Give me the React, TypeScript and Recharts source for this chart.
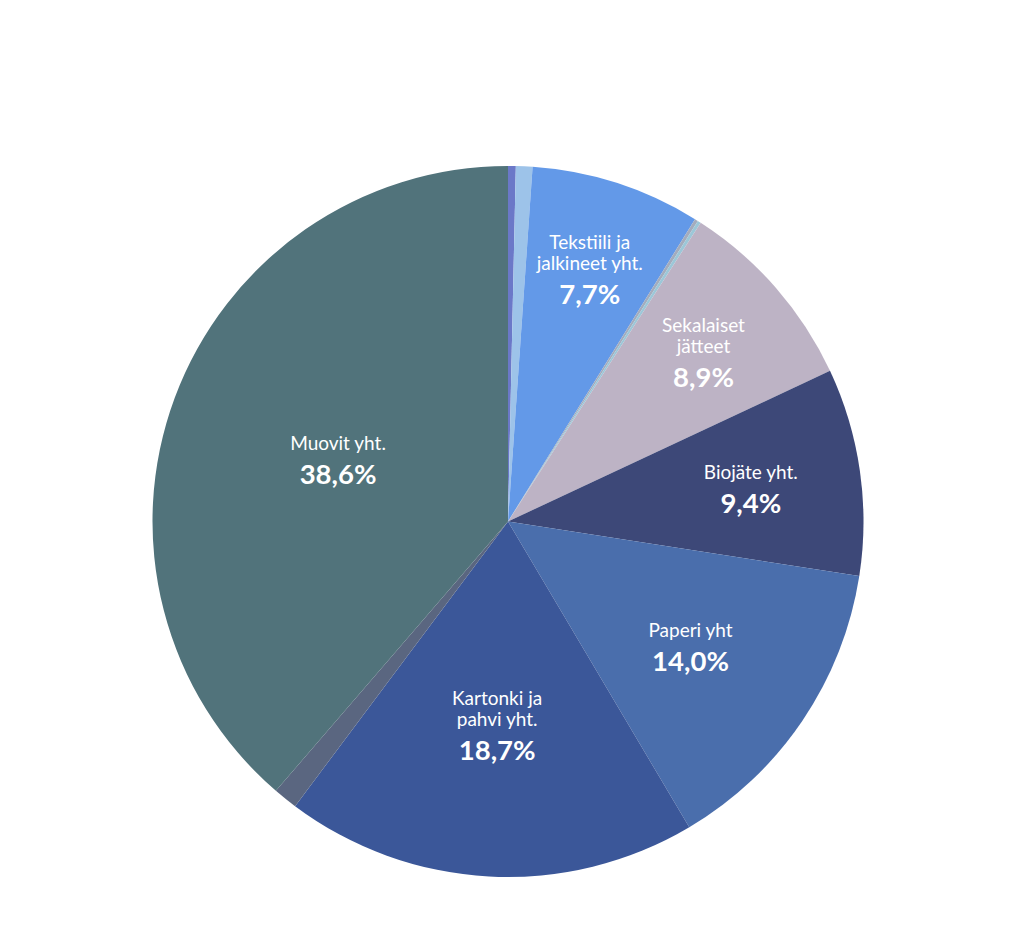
import React from "react";
import { PieChart, Pie, Cell } from "recharts";

const categories = [
  "Muu 1",
  "Muu 2",
  "Tekstiili ja jalkineet yht.",
  "Muu 3",
  "Muu 4",
  "Sekalaiset jätteet",
  "Biojäte yht.",
  "Paperi yht",
  "Kartonki ja pahvi yht.",
  "Muu 5",
  "Muovit yht.",
];
const values = [0.35, 0.75, 7.7, 0.15, 0.15, 8.9, 9.4, 14.0, 18.7, 1.1, 38.6];
const colors = [
  "#6b78c8",
  "#9dc3e9",
  "#6399e8",
  "#a3acbd",
  "#9cc7d8",
  "#bdb3c5",
  "#3d4878",
  "#4a6eac",
  "#3b5799",
  "#5a6680",
  "#51737b",
];

// label line breaks and radial placement (fraction of outer radius)
const labelLines: Record<string, string[]> = {
  "Tekstiili ja jalkineet yht.": ["Tekstiili ja", "jalkineet yht."],
  "Sekalaiset jätteet": ["Sekalaiset", "jätteet"],
  "Biojäte yht.": ["Biojäte yht."],
  "Paperi yht": ["Paperi yht"],
  "Kartonki ja pahvi yht.": ["Kartonki ja", "pahvi yht."],
  "Muovit yht.": ["Muovit yht."],
};
const labelRadius: Record<string, number> = {
  "Tekstiili ja jalkineet yht.": 0.75,
  "Sekalaiset jätteet": 0.73,
  "Biojäte yht.": 0.69,
  "Paperi yht": 0.62,
  "Kartonki ja pahvi yht.": 0.57,
  "Muovit yht.": 0.51,
};

const data = categories.map((name, i) => ({ name, value: values[i] }));

const RAD = Math.PI / 180;
const FONT = "Lato, 'Open Sans', sans-serif";

const renderLabel = (props: any) => {
  const { cx, cy, midAngle, outerRadius, index } = props;
  const name = categories[index];
  const lines = labelLines[name];
  if (!lines) return null;
  const r = outerRadius * labelRadius[name];
  const x = cx + r * Math.cos(-midAngle * RAD);
  const y = cy + r * Math.sin(-midAngle * RAD);
  const lineH = 21;
  const pctGap = 31;
  const total = lineH * (lines.length - 1) + pctGap;
  const y0 = y - total / 2;
  const pct = values[index].toFixed(1).replace(".", ",") + "%";
  return (
    <g>
      {lines.map((l, i) => (
        <text
          key={i}
          x={x}
          y={y0 + i * lineH}
          textAnchor="middle"
          dominantBaseline="central"
          fill="#ffffff"
          fontFamily={FONT}
          fontSize={19}
        >
          {l}
        </text>
      ))}
      <text
        x={x}
        y={y0 + total}
        textAnchor="middle"
        dominantBaseline="central"
        fill="#ffffff"
        fontFamily={FONT}
        fontSize={27.5}
        fontWeight={700}
      >
        {pct}
      </text>
    </g>
  );
};

export default function App() {
  return (
    <PieChart width={1008} height={914} margin={{ top: 0, right: 0, bottom: 0, left: 0 }}>
      <Pie
        data={data}
        dataKey="value"
        nameKey="name"
        cx={500}
        cy={513.5}
        outerRadius={355.5}
        startAngle={90}
        endAngle={-270}
        stroke="none"
        label={renderLabel}
        labelLine={false}
        isAnimationActive={false}
      >
        {data.map((d, i) => (
          <Cell key={d.name} fill={colors[i]} />
        ))}
      </Pie>
    </PieChart>
  );
}
